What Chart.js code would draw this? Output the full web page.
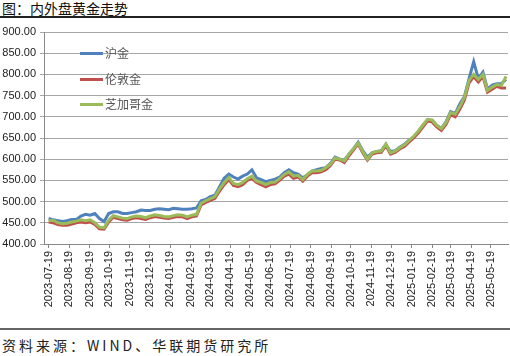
<!DOCTYPE html>
<html><head><meta charset="utf-8">
<script src="https://cdn.jsdelivr.net/npm/chart.js@4"></script>
<style>
html,body{margin:0;padding:0;background:#fff;width:510px;height:356px;overflow:hidden;position:relative;font-family:"Noto Sans CJK SC",sans-serif;}
#title{position:absolute;left:2px;top:-1px;font-size:14px;line-height:18px;color:#111;}
#tline{position:absolute;left:0;top:16px;width:510px;height:2px;background:#222;}
#wrap{position:absolute;left:0;top:20px;width:510px;height:308px;}
#bline{position:absolute;left:0;top:328px;width:510px;height:2px;background:#666;}
#src{position:absolute;left:2px;top:337px;font-size:14px;line-height:16px;letter-spacing:3px;color:#222;}
#legend{position:absolute;left:80px;top:45px;}
.li{position:absolute;left:0;white-space:nowrap;font-size:12px;line-height:16px;color:#555;}
.li span.sw{position:absolute;left:0;top:7px;width:23px;height:3px;}
.li span.tx{position:absolute;left:25px;top:0;}
</style>
</head><body>
<div id="title">图：内外盘黄金走势</div>
<div id="tline"></div>
<div id="wrap"><canvas id="c"></canvas></div>
<div id="legend"></div>
<div id="bline"></div>
<div id="src">资料来源：WIND、华联期货研究所</div>
<script>
const seriesNames = ['沪金','伦敦金','芝加哥金'];
const dates = ['2023-07-19','2023-07-26','2023-08-02','2023-08-09','2023-08-16','2023-08-23','2023-08-30','2023-09-06','2023-09-13','2023-09-20',
'2023-09-27','2023-10-04','2023-10-11','2023-10-18','2023-10-25','2023-11-01','2023-11-08','2023-11-15','2023-11-22','2023-11-29',
'2023-12-06','2023-12-13','2023-12-20','2023-12-27','2024-01-03','2024-01-10','2024-01-17','2024-01-24','2024-01-31','2024-02-07',
'2024-02-14','2024-02-21','2024-02-28','2024-03-06','2024-03-13','2024-03-20','2024-03-27','2024-04-03','2024-04-10','2024-04-17',
'2024-04-24','2024-05-01','2024-05-08','2024-05-15','2024-05-22','2024-05-29','2024-06-05','2024-06-12','2024-06-19','2024-06-26',
'2024-07-03','2024-07-10','2024-07-17','2024-07-24','2024-07-31','2024-08-07','2024-08-14','2024-08-21','2024-08-28','2024-09-04',
'2024-09-11','2024-09-18','2024-09-25','2024-10-02','2024-10-09','2024-10-16','2024-10-23','2024-10-30','2024-11-06','2024-11-13',
'2024-11-20','2024-11-27','2024-12-04','2024-12-11','2024-12-18','2024-12-25','2025-01-01','2025-01-08','2025-01-15','2025-01-22',
'2025-01-29','2025-02-05','2025-02-12','2025-02-19','2025-02-26','2025-03-05','2025-03-12','2025-03-19','2025-03-26','2025-04-02',
'2025-04-09','2025-04-16','2025-04-23','2025-04-30','2025-05-07','2025-05-14','2025-05-21','2025-05-28','2025-06-04','2025-06-11'];
const shfe = [460,457,455,453,455,458,458,466,470,468,
472,460,453,472,476,476,472,472,474,476,
480,479,479,482,483,482,481,484,483,482,
482,483,485,502,505,512,515,535,555,565,
558,553,560,565,575,556,552,547,550,553,
558,568,575,568,565,556,563,572,575,578,
580,590,605,600,598,612,625,640,620,605,
615,618,620,635,618,620,628,635,645,652,
665,680,692,692,680,672,688,712,708,730,
748,790,830,790,805,765,775,778,778,788];
const london = [452,450,446,444,444,447,450,452,450,452,
446,436,435,452,463,460,457,456,460,462,
460,458,462,465,463,461,460,463,465,464,
460,464,466,492,498,503,508,525,540,552,
538,535,540,550,555,545,540,535,540,542,
550,560,565,555,558,548,560,568,568,570,
575,585,600,598,592,608,622,636,615,598,
612,615,616,632,612,616,624,630,640,650,
662,676,690,688,676,668,682,705,700,718,
740,780,795,782,795,758,765,772,768,768];
const comex = [455,456,450,448,449,452,454,457,455,457,
450,440,438,456,467,464,461,460,464,466,
465,462,466,469,467,465,464,467,469,468,
464,468,470,496,502,507,512,530,545,557,
543,540,545,554,560,548,545,540,545,546,
554,564,570,560,562,552,564,572,572,574,
580,588,603,600,596,612,625,638,618,600,
615,618,619,636,615,619,627,634,644,654,
666,680,694,692,680,672,686,710,706,724,
746,786,800,788,800,762,770,776,774,795];
const tickDates = ['2023-07-19','2023-08-19','2023-09-19','2023-10-19','2023-11-19','2023-12-19','2024-01-19','2024-02-19','2024-03-19','2024-04-19','2024-05-19','2024-06-19','2024-07-19','2024-08-19','2024-09-19','2024-10-19','2024-11-19','2024-12-19','2025-01-19','2025-02-19','2025-03-19','2025-04-19','2025-05-19'];
const yTicks = [400,450,500,550,600,650,700,750,800,850,900];
const colors = ['#4F81BD','#C0504D','#9BBB59'];

const base = Date.parse('2023-07-19T00:00:00Z');
const toDay = s => (Date.parse(s + 'T00:00:00Z') - base) / 864e5;
const tickLabel = {};
tickDates.forEach(d => { tickLabel[toDay(d)] = d; });
const mk = vals => vals.map((v, i) => ({x: toDay(dates[i]), y: v}));
const allSeries = [shfe, london, comex];

const FONT = '"Liberation Sans","Noto Sans CJK SC",sans-serif';
const chart = new Chart(document.getElementById('c'), {
  type: 'line',
  data: {
    datasets: allSeries.map((s, i) => ({
      label: seriesNames[i], data: mk(s), borderColor: colors[i], backgroundColor: colors[i],
      borderWidth: 3, pointRadius: 0, tension: 0, order: 2 - i
    }))
  },
  options: {
    responsive: true, maintainAspectRatio: false, animation: false,
    layout: {padding: {top: 12, right: 2, left: 0, bottom: 0}},
    plugins: {legend: {display: false}, tooltip: {enabled: false}},
    scales: {
      x: {
        type: 'linear', min: toDay('2023-07-12'), max: toDay('2025-06-14'),
        afterBuildTicks: sc => { sc.ticks = tickDates.map(d => ({value: toDay(d)})); },
        afterFit: sc => { sc.height = 84; },
        grid: {display: true, drawOnChartArea: false, drawTicks: true, tickLength: 4, color: '#888'},
        border: {color: '#888', width: 1},
        ticks: {autoSkip: false, minRotation: 90, maxRotation: 90, padding: 3, color: '#222',
          font: {family: FONT, size: 11}, callback: v => tickLabel[v] || ''}
      },
      y: {
        min: 400, max: 900,
        afterBuildTicks: sc => { sc.ticks = yTicks.map(v => ({value: v})); },
        afterFit: sc => { sc.width = 44; },
        grid: {color: '#a6a6a6', lineWidth: 1, tickLength: 4, drawTicks: true},
        border: {color: '#888', width: 1},
        ticks: {padding: 4, color: '#222', font: {family: FONT, size: 11}, callback: v => v.toFixed(2)}
      }
    }
  }
});

const lg = document.getElementById('legend');
const offs = [0, 25.5, 51];
seriesNames.forEach((n, i) => {
  const d = document.createElement('div');
  d.className = 'li';
  d.style.top = offs[i] + 'px';
  d.innerHTML = '<span class="sw" style="background:' + colors[i] + '"></span><span class="tx">' + n + '</span>';
  lg.appendChild(d);
});
</script>
</body></html>
